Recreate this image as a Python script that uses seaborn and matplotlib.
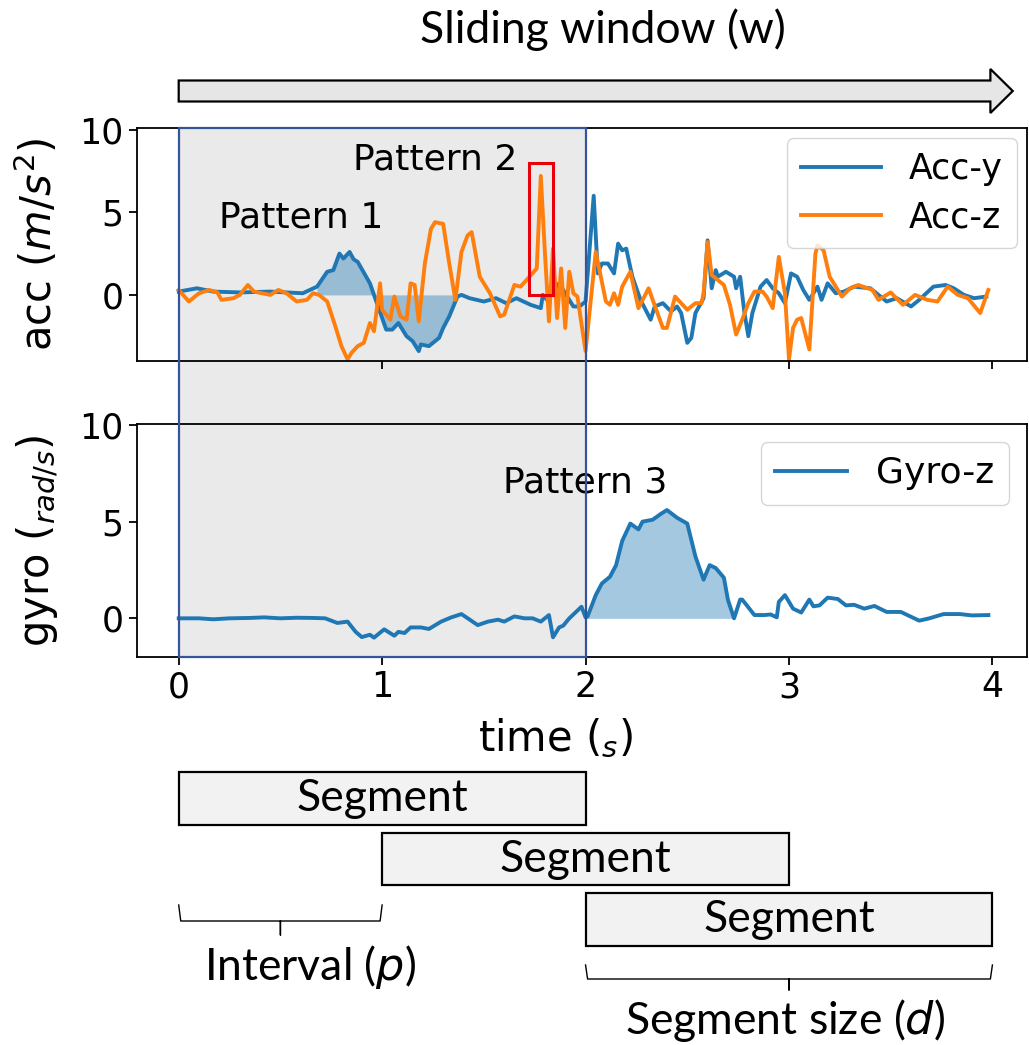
import numpy as np
import pandas as pd
import matplotlib
matplotlib.use("Agg")
import matplotlib.pyplot as plt
import matplotlib.patches as mpatches
import matplotlib.transforms as mtransforms
from matplotlib.lines import Line2D
import seaborn as sns

# signal vertices: (time [s], value)
acc_y = [(0.00, 0.2), (0.09, 0.4), (0.17, 0.2), (0.30, 0.15), (0.45, 0.2), (0.61, 0.1),
         (0.68, 0.5), (0.73, 1.4), (0.76, 1.5), (0.79, 2.5), (0.81, 2.2), (0.84, 2.6),
         (0.86, 2.15), (0.88, 2.0), (0.94, 0.7), (0.98, -0.7), (1.02, -2.1), (1.05, -2.1),
         (1.08, -1.7), (1.12, -2.5), (1.15, -2.8), (1.18, -3.4), (1.19, -3.0), (1.23, -3.1),
         (1.28, -2.6), (1.30, -2.0), (1.33, -1.3), (1.37, -0.1), (1.39, 0.0), (1.43, -0.2),
         (1.50, -0.4), (1.56, -0.2), (1.61, -0.5), (1.66, -0.2), (1.73, -0.6), (1.78, -0.8),
         (1.79, 0.0), (1.81, -0.3), (1.84, 0.1), (1.87, 0.7), (1.90, 0.1), (1.94, -0.7),
         (1.97, -0.7), (2.00, -0.4), (2.04, 6.0), (2.06, 1.3), (2.08, 1.9), (2.11, 1.9),
         (2.14, 1.3), (2.16, 3.1), (2.18, 2.7), (2.20, 2.8), (2.23, 1.1), (2.27, -0.3),
         (2.32, -1.5), (2.34, -0.7), (2.38, -0.5), (2.42, -1.0), (2.45, -0.7), (2.47, -1.1),
         (2.50, -2.9), (2.52, -2.6), (2.54, -1.1), (2.58, -0.2), (2.60, 3.3), (2.62, 0.4),
         (2.64, 1.5), (2.65, 1.1), (2.69, 1.4), (2.73, 1.1), (2.74, 0.4), (2.76, 1.1),
         (2.78, -1.0), (2.80, -2.5), (2.82, -1.1), (2.86, 0.5), (2.89, 0.9), (2.92, 0.4),
         (2.95, 0.1), (2.98, -0.5), (3.01, 1.3), (3.04, 1.1), (3.07, 0.3), (3.10, -0.3),
         (3.14, 0.5), (3.16, -0.3), (3.19, 0.7), (3.23, 0.1), (3.27, 0.2), (3.32, 0.5),
         (3.40, 0.4), (3.48, -0.4), (3.53, -0.2), (3.60, -0.7), (3.64, -0.3), (3.71, 0.5),
         (3.77, 0.6), (3.81, 0.4), (3.86, 0.0), (3.91, -0.2), (3.97, -0.1)]

acc_z = [(0.00, 0.3), (0.05, -0.4), (0.10, 0.1), (0.15, 0.3), (0.19, 0.15), (0.21, -0.3),
         (0.27, -0.2), (0.30, 0.0), (0.34, 0.6), (0.37, 0.2), (0.41, 0.1), (0.45, 0.0),
         (0.49, 0.3), (0.53, 0.1), (0.58, -0.4), (0.63, -0.3), (0.66, 0.1), (0.69, 0.0),
         (0.73, -0.4), (0.77, -1.9), (0.80, -3.1), (0.83, -3.9), (0.85, -3.5), (0.88, -3.1),
         (0.91, -2.9), (0.94, -1.7), (0.96, -2.2), (0.99, 0.7), (1.00, -0.9), (1.04, -1.5),
         (1.06, -0.1), (1.09, -1.3), (1.12, -1.5), (1.14, 0.7), (1.16, 0.6), (1.18, -1.6),
         (1.21, 1.9), (1.24, 4.0), (1.26, 4.4), (1.30, 4.3), (1.33, 1.9), (1.36, -0.3),
         (1.39, 2.6), (1.42, 3.6), (1.44, 3.8), (1.48, 1.1), (1.53, 0.1), (1.58, -1.3),
         (1.60, -1.2), (1.65, 0.6), (1.68, 0.5), (1.71, 0.9), (1.76, 1.6), (1.78, 7.2),
         (1.80, 2.6), (1.82, -1.6), (1.84, 2.8), (1.86, -1.4), (1.88, 1.6), (1.90, -2.0),
         (1.92, 1.4), (1.94, 0.1), (1.96, -0.1), (2.00, -3.4), (2.05, 2.6), (2.10, -0.4),
         (2.12, -0.6), (2.14, 0.1), (2.16, -0.6), (2.18, 0.5), (2.22, 1.4), (2.26, -0.8),
         (2.31, 0.4), (2.33, -0.3), (2.38, -2.0), (2.40, -2.0), (2.44, -0.1), (2.47, -0.5),
         (2.50, -0.9), (2.54, -0.5), (2.57, -0.5), (2.58, 0.1), (2.60, 3.2), (2.62, 1.2),
         (2.64, 1.0), (2.68, 0.6), (2.71, -0.6), (2.74, -2.4), (2.77, -1.5), (2.80, -0.5),
         (2.83, 0.2), (2.87, 0.2), (2.89, -0.1), (2.92, -0.8), (2.95, 2.3), (2.98, 0.1),
         (3.00, -3.9), (3.02, -2.0), (3.04, -1.5), (3.06, -1.4), (3.10, -3.3), (3.13, 2.5),
         (3.14, 3.0), (3.17, 2.7), (3.20, 1.1), (3.24, 0.3), (3.26, -0.1), (3.30, 0.4),
         (3.34, 0.6), (3.41, 0.3), (3.44, -0.3), (3.50, 0.15), (3.56, -0.6), (3.62, 0.0),
         (3.68, -0.3), (3.73, -0.4), (3.78, 0.5), (3.83, 0.0), (3.88, -0.2), (3.94, -1.1),
         (3.98, 0.3)]

gyro_z = [(0.00, 0.0), (0.10, 0.0), (0.17, -0.05), (0.25, 0.0), (0.35, 0.02), (0.42, 0.05),
          (0.50, 0.0), (0.58, 0.03), (0.66, 0.02), (0.72, 0.0), (0.78, -0.24), (0.83, -0.17),
          (0.87, -0.7), (0.90, -0.97), (0.94, -0.85), (0.96, -1.0), (1.01, -0.57), (1.06, -0.9),
          (1.08, -0.7), (1.11, -0.76), (1.14, -0.47), (1.19, -0.47), (1.23, -0.55), (1.29, -0.17),
          (1.34, 0.05), (1.39, 0.22), (1.47, -0.35), (1.52, -0.17), (1.57, -0.07), (1.60, -0.17),
          (1.65, 0.1), (1.70, 0.0), (1.74, 0.0), (1.78, -0.17), (1.82, 0.17), (1.84, -0.98),
          (1.87, -0.47), (1.89, -0.38), (1.92, 0.0), (1.96, 0.4), (1.98, 0.6), (2.00, 0.05),
          (2.01, 0.1), (2.05, 1.2), (2.08, 1.8), (2.12, 2.15), (2.15, 2.75), (2.18, 4.0),
          (2.22, 4.9), (2.26, 4.6), (2.28, 5.0), (2.33, 5.1), (2.37, 5.4), (2.40, 5.6),
          (2.45, 5.2), (2.50, 4.9), (2.54, 3.2), (2.58, 2.0), (2.61, 2.75), (2.64, 2.6),
          (2.68, 2.1), (2.70, 0.95), (2.73, 0.0), (2.76, 0.97), (2.77, 0.97), (2.83, 0.17),
          (2.88, 0.17), (2.91, 0.2), (2.94, 0.05), (2.95, 0.85), (2.98, 1.2), (3.02, 0.5),
          (3.06, 0.3), (3.10, 0.97), (3.12, 0.62), (3.15, 0.67), (3.19, 1.07), (3.24, 1.0),
          (3.28, 0.67), (3.32, 0.7), (3.37, 0.5), (3.42, 0.64), (3.48, 0.33), (3.55, 0.33),
          (3.64, -0.12), (3.69, 0.0), (3.76, 0.22), (3.84, 0.22), (3.90, 0.15), (3.98, 0.17)]

window = (0, 2)                      # shaded first window
segments = [(0, 2), (1, 3), (2, 4)]  # sliding segments (start, end) in s
interval = (0, 1)
pattern1_span = (0.66, 1.38)
pattern3_span = (2.0, 2.74)
pattern2_box = (1.72, 0.0, 0.12, 8.0)  # x, y, width, height

blue, orange = "#1f77b4", "#ff7f0e"
grey = "#eaeaea"
frame_blue = "#34559a"

acc_y = pd.DataFrame(acc_y, columns=["t", "v"])
acc_z = pd.DataFrame(acc_z, columns=["t", "v"])
gyro_z = pd.DataFrame(gyro_z, columns=["t", "v"])

fig = plt.figure(figsize=(10.29, 10.45), dpi=100)
W, H = 1029, 1045
ax1 = fig.add_axes([137 / W, 1 - 361 / H, 890 / W, 233 / H])
ax2 = fig.add_axes([137 / W, 1 - 657 / H, 890 / W, 233 / H], sharex=ax1)

for ax in (ax1, ax2):
    ax.axvspan(*window, color=grey, lw=0, zorder=0)
    ax.tick_params(labelsize=25, length=6, width=1.3)
    for s in ax.spines.values():
        s.set_linewidth(1.3)

# acc panel
sns.lineplot(data=acc_y, x="t", y="v", ax=ax1, color=blue, lw=2.8, label="Acc-y", estimator=None)
sns.lineplot(data=acc_z, x="t", y="v", ax=ax1, color=orange, lw=2.8, label="Acc-z", estimator=None)
m1 = acc_y.t.between(*pattern1_span)
ax1.fill_between(acc_y.t, acc_y.v, 0, where=m1, color=blue, alpha=0.4, lw=0)
ax1.add_patch(mpatches.Rectangle(pattern2_box[:2], pattern2_box[2], pattern2_box[3],
                                 fill=False, ec="#e8000b", lw=2.2, zorder=3))
ax1.text(0.6, 4.7, "Pattern 1", fontsize=26, ha="center", va="center")
ax1.text(1.26, 8.2, "Pattern 2", fontsize=26, ha="center", va="center")
ax1.set_ylim(-4, 10.1)
ax1.set_yticks([0, 5, 10])
ax1.set_xlabel("")
ax1.set_ylabel(r"acc ($m/s^2$)", fontsize=30)
ax1.tick_params(labelbottom=False)
ax1.legend(loc="upper right", fontsize=25, handlelength=2.3, labelspacing=0.4,
           borderaxespad=0.3)

# gyro panel
sns.lineplot(data=gyro_z, x="t", y="v", ax=ax2, color=blue, lw=2.8, label="Gyro-z", estimator=None)
m3 = gyro_z.t.between(*pattern3_span)
ax2.fill_between(gyro_z.t, gyro_z.v, 0, where=m3, color=blue, alpha=0.4, lw=0)
ax2.text(2.0, 7.05, "Pattern 3", fontsize=26, ha="center", va="center")
ax2.set_ylim(-2, 10.05)
ax2.set_yticks([0, 5, 10])
ax2.set_xticks([0, 1, 2, 3, 4])
ax2.set_xlim(-0.205, 4.17)
ax2.set_xlabel(r"time ($_s$)", fontsize=30)
ax2.set_ylabel(r"gyro ($_{rad/s}$)", fontsize=30)
ax2.legend(loc="upper right", fontsize=26, handlelength=2.0)
ax1.yaxis.set_label_coords(-0.085, 0.5)
ax2.yaxis.set_label_coords(-0.085, 0.5)
ax2.xaxis.set_label_coords(0.47, -0.255)

# figure-level decorations: x in seconds, y in figure fraction
tr = mtransforms.blended_transform_factory(ax2.transData, fig.transFigure)
y_top, y_bot = 1 - 128 / H, 1 - 657 / H
fig.add_artist(mpatches.Rectangle((window[0], y_bot), window[1] - window[0], y_top - y_bot,
                                  transform=tr, fc=grey, ec="none", zorder=-1))
fig.add_artist(mpatches.Rectangle((window[0], y_bot), window[1] - window[0], y_top - y_bot,
                                  transform=tr, fill=False, ec=frame_blue, lw=1.6, zorder=5))

lato = ["Lato", "DejaVu Sans"]
fig.text(0.586, 1 - 30 / H, "Sliding window (w)", fontsize=32, family=lato, ha="center", va="center")
fig.add_artist(mpatches.FancyArrow(0, 1 - 91 / H, 4.1, 0, width=21 / H, head_width=44 / H,
                                   head_length=0.11, length_includes_head=True, transform=tr,
                                   fc="#e6e6e6", ec="black", lw=1.6))

seg_y = [(772, 825), (833, 885), (893, 946)]
for (a, b), (yt, yb) in zip(segments, seg_y):
    fig.add_artist(mpatches.Rectangle((a, 1 - yb / H), b - a, (yb - yt) / H, transform=tr,
                                      fc="#f2f2f2", ec="black", lw=1.6))
    fig.text((a + b) / 2, 1 - (yt + yb) / 2 / H, "Segment", fontsize=32, family=lato,
             ha="center", va="center", transform=tr)


def brace(a, b, yt, ym, yb):
    mid = (a + b) / 2
    xs = [a, a + 0.01, mid - 0.01, mid, mid, mid, mid + 0.01, b - 0.01, b]
    ys = [yt, ym, ym, ym, yb, ym, ym, ym, yt]
    fig.add_artist(Line2D(xs, [1 - y / H for y in ys], transform=tr, color="black", lw=1.0))


brace(interval[0], interval[1], 905, 921, 935)
brace(segments[-1][0], segments[-1][1], 965, 979, 990)
fig.text(0.645, 1 - 967 / H, "Interval ($\\it{p}$)", fontsize=32, family=lato,
         ha="center", va="center", transform=tr)
fig.text(2.98, 1 - 1020 / H, "Segment size ($\\it{d}$)", fontsize=32, family=lato,
         ha="center", va="center", transform=tr)

fig.savefig("out.png", dpi=100)
